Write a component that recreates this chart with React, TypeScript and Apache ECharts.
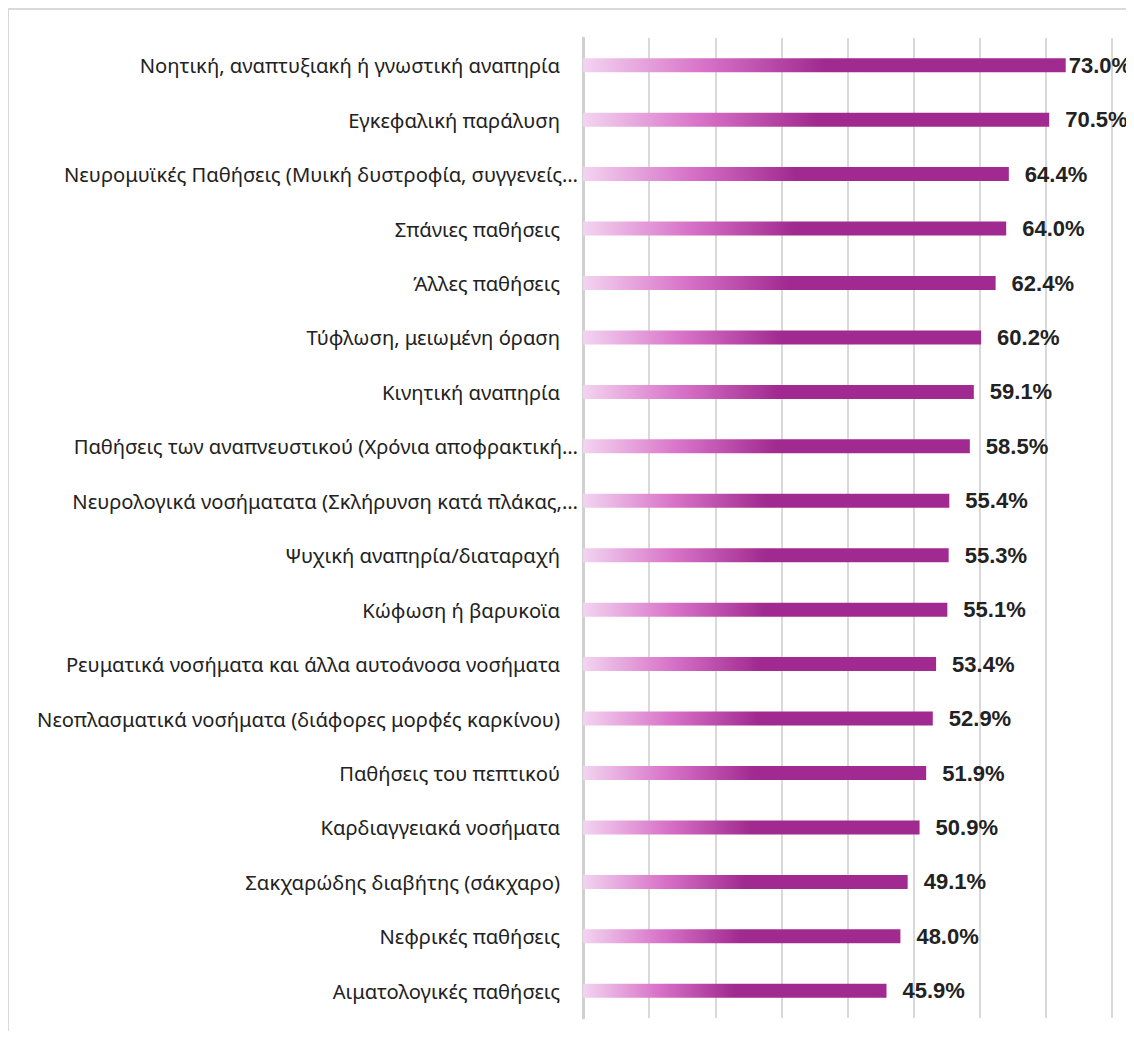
import React, { useEffect, useRef } from "react";
import * as echarts from "echarts";

const categories: string[] = [
  "Νοητική, αναπτυξιακή ή γνωστική αναπηρία",
  "Εγκεφαλική παράλυση",
  "Νευρομυϊκές Παθήσεις (Μυική δυστροφία, συγγενείς…",
  "Σπάνιες παθήσεις",
  "Άλλες παθήσεις",
  "Τύφλωση, μειωμένη όραση",
  "Κινητική αναπηρία",
  "Παθήσεις των αναπνευστικού (Χρόνια αποφρακτική…",
  "Νευρολογικά νοσήματατα (Σκλήρυνση κατά πλάκας,…",
  "Ψυχική αναπηρία/διαταραχή",
  "Κώφωση ή βαρυκοϊα",
  "Ρευματικά νοσήματα και άλλα αυτοάνοσα νοσήματα",
  "Νεοπλασματικά νοσήματα (διάφορες μορφές καρκίνου)",
  "Παθήσεις του πεπτικού",
  "Καρδιαγγειακά νοσήματα",
  "Σακχαρώδης διαβήτης (σάκχαρο)",
  "Νεφρικές παθήσεις",
  "Αιματολογικές παθήσεις",
];

const values: number[] = [
  73.0, 70.5, 64.4, 64.0, 62.4, 60.2, 59.1, 58.5, 55.4, 55.3, 55.1, 53.4, 52.9,
  51.9, 50.9, 49.1, 48.0, 45.9,
];

const xTicks = { min: 0, max: 80, interval: 10 };

export default function App() {
  const ref = useRef<HTMLDivElement>(null);

  useEffect(() => {
    if (!ref.current) return;
    const chart = echarts.init(ref.current, null, { renderer: "svg" });

    const gradient = new echarts.graphic.LinearGradient(0, 0, 1, 0, [
      { offset: 0, color: "#f3d4f0" },
      { offset: 0.25, color: "#d872c8" },
      { offset: 0.5, color: "#a02a8f" },
      { offset: 1, color: "#a02a8f" },
    ]);

    const data = values.map((v, i) => ({
      value: v,
      label: { distance: i === 0 ? 3 : 16 },
    }));

    chart.setOption({
      animation: false,
      backgroundColor: "#ffffff",
      graphic: [
        {
          type: "line",
          shape: { x1: 8, y1: 9, x2: 1134, y2: 9 },
          style: { stroke: "#d9d9d9", lineWidth: 2 },
          silent: true,
        },
        {
          type: "line",
          shape: { x1: 8, y1: 8, x2: 8, y2: 1039 },
          style: { stroke: "#d9d9d9", lineWidth: 2 },
          silent: true,
        },
      ],
      grid: { left: 583, right: 22, top: 38, bottom: 21, containLabel: false },
      xAxis: {
        type: "value",
        min: xTicks.min,
        max: xTicks.max,
        interval: xTicks.interval,
        axisLabel: { show: false },
        axisLine: { show: false },
        axisTick: { show: false },
        splitLine: { show: true, lineStyle: { color: "#d9d9d9", width: 2 } },
      },
      yAxis: {
        type: "category",
        data: categories,
        inverse: true,
        axisTick: { show: false },
        axisLine: { show: true, lineStyle: { color: "#d0d0d0", width: 3 } },
        axisLabel: {
          margin: 5,
          formatter: (v: string) =>
            v.endsWith("…") ? `{t|${v}}` : `{n|${v}}`,
          rich: {
            t: {
              fontFamily: "Noto Sans",
              fontSize: 20.2,
              color: "#222222",
            },
            n: {
              fontFamily: "Noto Sans",
              fontSize: 20.2,
              color: "#222222",
              padding: [0, 18, 0, 0],
            },
          },
        },
      },
      series: [
        {
          type: "bar",
          data,
          barWidth: 14,
          itemStyle: { color: gradient },
          label: {
            show: true,
            position: "right",
            formatter: (p: any) => `${p.value.toFixed(1)}%`,
            fontFamily: "Liberation Sans",
            fontWeight: "bold",
            fontSize: 22,
            color: "#222222",
          },
        },
      ],
    });

    return () => chart.dispose();
  }, []);

  return (
    <div style={{ position: "relative", width: 1118, height: 1023 }}>
      <div
        ref={ref}
        style={{ position: "absolute", left: -8, top: -8, width: 1134, height: 1039 }}
      />
    </div>
  );
}
